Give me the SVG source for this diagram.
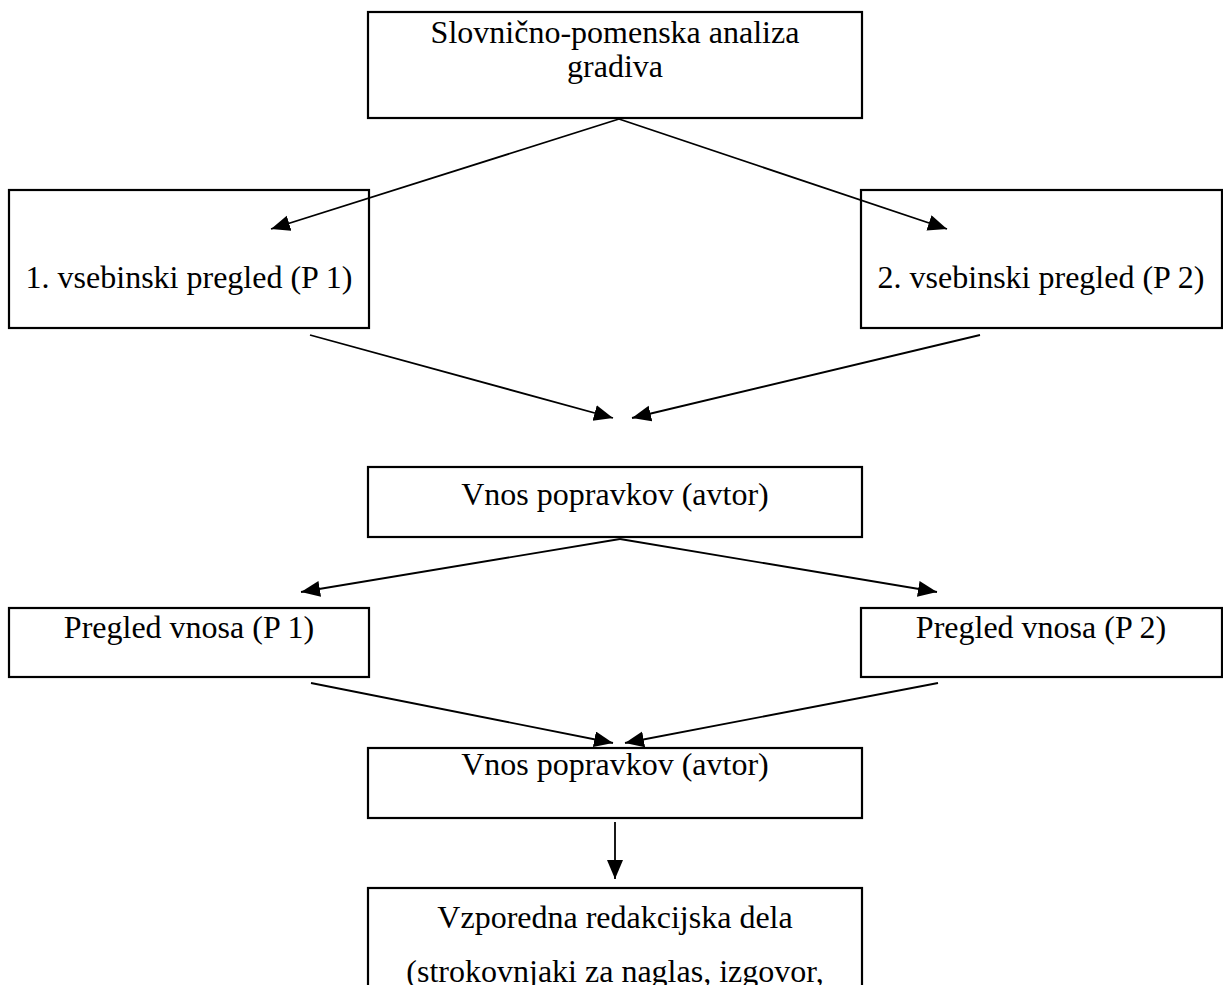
<svg xmlns="http://www.w3.org/2000/svg" width="1223" height="985" viewBox="0 0 1223 985">
<style>
.box{fill:#fff;stroke:#000;stroke-width:2.2}
.t{font-family:"Liberation Serif","Times New Roman",serif;font-size:32px;fill:#000;text-anchor:middle}
.c{stroke:#000;stroke-width:1.8;fill:none;marker-end:url(#ah)}
</style>
<defs>
<marker id="ah" markerUnits="userSpaceOnUse" markerWidth="22" markerHeight="18" refX="19" refY="8" orient="auto">
<path d="M0,0 L19,8 L0,16 z" fill="#000"/>
</marker>
</defs>
<rect width="1223" height="985" fill="#fff"/>
<g id="n_top"><rect class="box" x="368" y="12" width="494" height="106"/>
<text class="t" x="615" y="43">Slovnično-pomenska analiza</text>
<text class="t" x="615" y="77">gradiva</text></g>
<g id="n_p1"><rect class="box" x="9" y="190" width="360" height="138"/>
<text class="t" x="189" y="288">1. vsebinski pregled (P 1)</text></g>
<g id="n_p2"><rect class="box" x="861" y="190" width="361" height="138"/>
<text class="t" x="1041" y="288">2. vsebinski pregled (P 2)</text></g>
<g id="n_vnos1"><rect class="box" x="368" y="467" width="494" height="70"/>
<text class="t" x="615" y="505">Vnos popravkov (avtor)</text></g>
<g id="n_pv1"><rect class="box" x="9" y="608" width="360" height="69"/>
<text class="t" x="189" y="638">Pregled vnosa (P 1)</text></g>
<g id="n_pv2"><rect class="box" x="861" y="608" width="361" height="69"/>
<text class="t" x="1041" y="638">Pregled vnosa (P 2)</text></g>
<g id="n_vnos2"><rect class="box" x="368" y="748" width="494" height="70"/>
<text class="t" x="615" y="775">Vnos popravkov (avtor)</text></g>
<g id="n_vzp"><rect class="box" x="368" y="888" width="494" height="120"/>
<text class="t" x="615" y="928">Vzporedna redakcijska dela</text>
<text class="t" x="615" y="982">(strokovnjaki za naglas, izgovor,</text></g>
<g id="connectors">
<line class="c" x1="619" y1="119" x2="271" y2="229"/>
<line class="c" x1="619" y1="119" x2="947" y2="229"/>
<line class="c" x1="310" y1="335" x2="613" y2="418"/>
<line class="c" x1="980" y1="335" x2="632" y2="418"/>
<line class="c" x1="620" y1="539" x2="301" y2="592"/>
<line class="c" x1="620" y1="539" x2="937" y2="592"/>
<line class="c" x1="311" y1="683" x2="613" y2="743"/>
<line class="c" x1="938" y1="683" x2="625" y2="743"/>
<line class="c" x1="615" y1="822" x2="615" y2="879"/>
</g>
</svg>
